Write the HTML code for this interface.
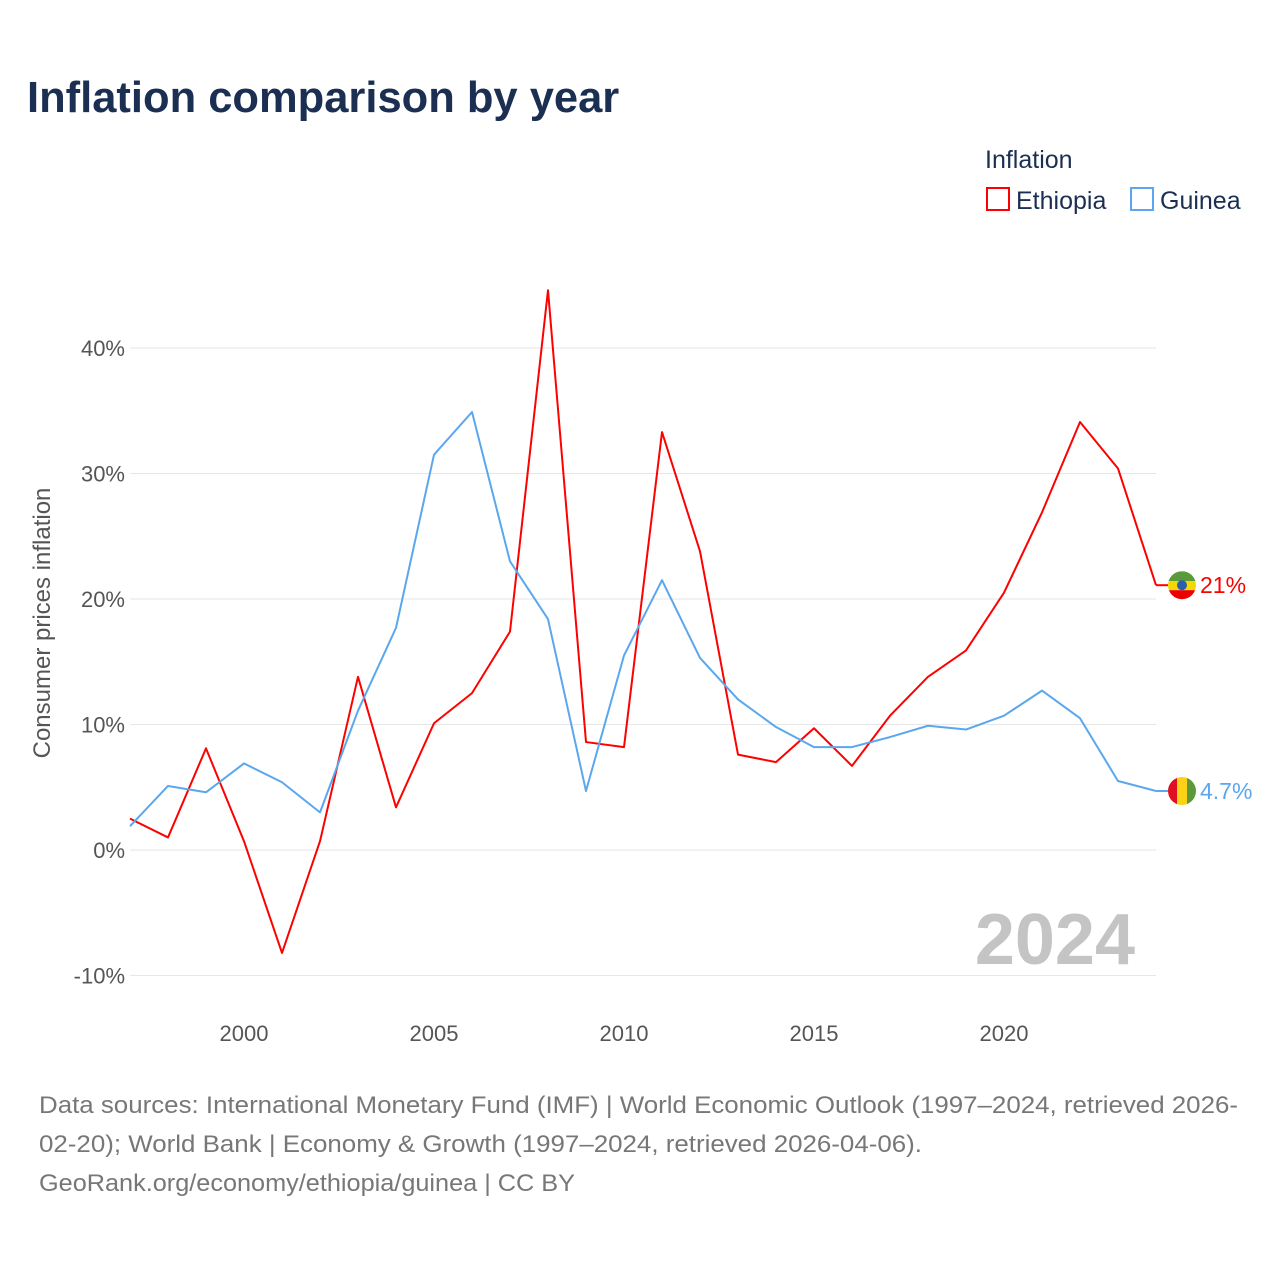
<!DOCTYPE html>
<html><head><meta charset="utf-8"><style>
body{margin:0;background:#fff;width:1280px;height:1280px;overflow:hidden;font-family:"Liberation Sans",sans-serif}
</style></head><body>
<svg width="1280" height="1280" xmlns="http://www.w3.org/2000/svg">
<text x="27" y="112" font-size="43.5" font-weight="bold" fill="#1b2f52">Inflation comparison by year</text>
<text x="985" y="168" font-size="25" fill="#1b2f52">Inflation</text>
<g><rect x="987" y="188" width="22" height="22" fill="none" stroke="#f00" stroke-width="2"/><text x="1016" y="209" font-size="25" fill="#1b2f52">Ethiopia</text></g>
<g><rect x="1131" y="188" width="22" height="22" fill="none" stroke="#5aa7ee" stroke-width="2"/><text x="1160" y="209" font-size="25" fill="#1b2f52">Guinea</text></g>
<g id="grid"></g><g id="yt"></g><g id="xt"></g>
<text x="1135" y="964" font-size="72" font-weight="bold" fill="#c4c4c4" text-anchor="end">2024</text>
<text transform="translate(50,623) rotate(-90)" font-size="24" fill="#555" text-anchor="middle">Consumer prices inflation</text>
<g id="series"></g>
<g font-size="24" fill="#777">
<text x="39" y="1113" textLength="1199" lengthAdjust="spacingAndGlyphs">Data sources: International Monetary Fund (IMF) | World Economic Outlook (1997–2024, retrieved 2026-</text>
<text x="39" y="1152" textLength="883" lengthAdjust="spacingAndGlyphs">02-20); World Bank | Economy &amp; Growth (1997–2024, retrieved 2026-04-06).</text>
<text x="39" y="1191" textLength="536" lengthAdjust="spacingAndGlyphs">GeoRank.org/economy/ethiopia/guinea | CC BY</text>
</g>
</svg>
<script>
const years=[1997,1998,1999,2000,2001,2002,2003,2004,2005,2006,2007,2008,2009,2010,2011,2012,2013,2014,2015,2016,2017,2018,2019,2020,2021,2022,2023,2024];
const ethiopia=[2.5,1.0,8.1,0.7,-8.2,0.7,13.8,3.4,10.1,12.5,17.4,44.6,8.6,8.2,33.3,23.8,7.6,7.0,9.7,6.7,10.7,13.8,15.9,20.5,26.9,34.1,30.4,21.1];
const guinea=[1.9,5.1,4.6,6.9,5.4,3.0,11.1,17.7,31.5,34.9,23.0,18.4,4.7,15.5,21.5,15.3,12.0,9.8,8.2,8.2,9.0,9.9,9.6,10.7,12.7,10.5,5.5,4.7];
const yTicks=[-10,0,10,20,30,40];
const yTickLabels=["-10%","0%","10%","20%","30%","40%"];
const xTicks=[2000,2005,2010,2015,2020];
const NS="http://www.w3.org/2000/svg";
const X=y=>130+(y-1997)*38, Y=v=>850-v*12.55;
function mk(t,a,p){const e=document.createElementNS(NS,t);for(const k in a)e.setAttribute(k,a[k]);p.appendChild(e);return e;}
const grid=document.getElementById('grid'),yt=document.getElementById('yt'),xt=document.getElementById('xt'),ser=document.getElementById('series');
yTicks.forEach((v,i)=>{
 const l=mk('line',{x1:130,x2:1156,y1:Y(v),y2:Y(v),stroke:'#e6e6e6','stroke-width':1},grid);
 
 
 const t=mk('text',{x:125,y:Y(v)+8,'font-size':22,fill:'#555','text-anchor':'end'},yt);t.textContent=yTickLabels[i];
 
 
});
xTicks.forEach(v=>{
 const t=mk('text',{x:X(v),y:1041,'font-size':22,fill:'#555','text-anchor':'middle'},xt);t.textContent=v;
 
 
});
function line(vals,col,name,label,flag){
 const pts=vals.map((v,i)=>X(years[i])+','+Y(v)).join(' ');
 const p=mk('polyline',{points:pts,fill:'none',stroke:col,'stroke-width':2,'stroke-linejoin':'round'},ser);
 
 
 const last=vals[vals.length-1],ly=Y(last);
 mk('line',{x1:X(2024),x2:1168,y1:ly,y2:ly,stroke:col,'stroke-width':2},ser);
 const g=mk('g',{},ser);
 
 
 const cid='c'+name;const d=mk('clipPath',{id:cid},g);mk('circle',{cx:1182,cy:ly,r:14},d);
 flag.forEach(f=>mk('rect',Object.assign({'clip-path':'url(#'+cid+')'},f(ly)),g));
 const t=mk('text',{x:1200,y:ly+8,'font-size':23,fill:col},ser);t.textContent=label;
 
 
}
line(ethiopia,'#f00','ethiopia','21%',[
 y=>({x:1168,y:y-14,width:28,height:10,fill:'#5a9a3a'}),
 y=>({x:1168,y:y-4,width:28,height:9,fill:'#f5d800'}),
 y=>({x:1168,y:y+5,width:28,height:10,fill:'#e00'}),
 y=>({x:1177,y:y-5,width:10,height:10,fill:'#2a5fb0',rx:5})]);
line(guinea,'#5aa7ee','guinea','4.7%',[
 y=>({x:1168,y:y-14,width:10,height:28,fill:'#e01020'}),
 y=>({x:1177,y:y-14,width:10,height:28,fill:'#fcd116'}),
 y=>({x:1187,y:y-14,width:10,height:28,fill:'#5a9a3a'})]);
</script>
</body></html>
